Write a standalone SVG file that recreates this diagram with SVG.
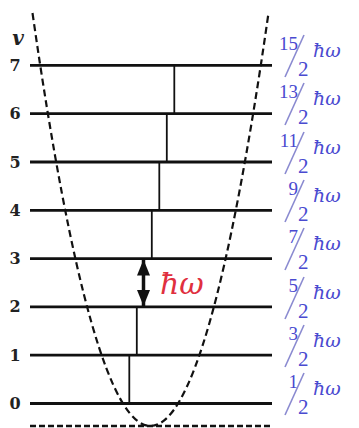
<svg xmlns="http://www.w3.org/2000/svg" width="359" height="428" viewBox="0 0 359 428">
<defs>
<style>
.lvl{stroke:#111;stroke-width:2.8;fill:none}
.num{font-family:"DejaVu Serif","Liberation Serif",serif;font-weight:bold;font-size:16px;fill:#222;text-anchor:middle}
.fr{font-family:"Liberation Serif",serif;fill:#4a4ad0}
.nm{text-anchor:end;font-size:19px}
.dn{font-size:21px}
.sl{stroke:#8a8ad0;stroke-width:1.6}
.hw{font-family:"DejaVu Serif",serif;font-style:italic;font-size:19px;fill:#4a4ad0}
.tr{stroke:#111;stroke-width:1.8}
.dash{stroke:#111;stroke-width:2.2;fill:none;stroke-dasharray:7 4}
</style>
<marker id="ah" viewBox="0 0 16 13" refX="16" refY="6.5" markerWidth="16" markerHeight="13" markerUnits="userSpaceOnUse" orient="auto">
<path d="M0,0 L16,6.5 L0,13 Z" fill="#111"/>
</marker>
</defs>
<rect width="359" height="428" fill="#fff"/>
<path class="dash" d="M32.5,13 Q150.5,839 268.5,13"/>
<line class="dash" x1="30" y1="426" x2="272" y2="426" style="stroke-width:2.5;stroke-dasharray:6 3"/>
<text x="18" y="45" style="font-family:'DejaVu Serif',serif;font-style:italic;font-weight:bold;font-size:20px;fill:#222" text-anchor="middle">v</text>
<g id="level7"><line class="lvl" x1="30" y1="65.4" x2="272" y2="65.4"/><text class="num" x="15" y="71">7</text><text class="fr nm" x="298" y="50">15</text><line class="sl" x1="304" y1="35" x2="285" y2="77"/><text class="fr dn" x="298" y="76">2</text><text class="hw" x="313" y="57">ħω</text></g>
<g id="level6"><line class="lvl" x1="30" y1="113.7" x2="272" y2="113.7"/><text class="num" x="15" y="119">6</text><text class="fr nm" x="298" y="98">13</text><line class="sl" x1="304" y1="83" x2="285" y2="125"/><text class="fr dn" x="298" y="124">2</text><text class="hw" x="313" y="105">ħω</text></g>
<g id="level5"><line class="lvl" x1="30" y1="162" x2="272" y2="162"/><text class="num" x="15" y="168">5</text><text class="fr nm" x="298" y="147">11</text><line class="sl" x1="304" y1="132" x2="285" y2="174"/><text class="fr dn" x="298" y="173">2</text><text class="hw" x="313" y="154">ħω</text></g>
<g id="level4"><line class="lvl" x1="30" y1="210.3" x2="272" y2="210.3"/><text class="num" x="15" y="216">4</text><text class="fr nm" x="298" y="195">9</text><line class="sl" x1="304" y1="180" x2="285" y2="222"/><text class="fr dn" x="298" y="221">2</text><text class="hw" x="313" y="202">ħω</text></g>
<g id="level3"><line class="lvl" x1="30" y1="258.6" x2="272" y2="258.6"/><text class="num" x="15" y="264">3</text><text class="fr nm" x="298" y="243">7</text><line class="sl" x1="304" y1="228" x2="285" y2="270"/><text class="fr dn" x="298" y="269">2</text><text class="hw" x="313" y="250">ħω</text></g>
<g id="level2"><line class="lvl" x1="30" y1="306.9" x2="272" y2="306.9"/><text class="num" x="15" y="312">2</text><text class="fr nm" x="298" y="292">5</text><line class="sl" x1="304" y1="277" x2="285" y2="319"/><text class="fr dn" x="298" y="318">2</text><text class="hw" x="313" y="299">ħω</text></g>
<g id="level1"><line class="lvl" x1="30" y1="355.2" x2="272" y2="355.2"/><text class="num" x="15" y="361">1</text><text class="fr nm" x="298" y="340">3</text><line class="sl" x1="304" y1="325" x2="285" y2="367"/><text class="fr dn" x="298" y="366">2</text><text class="hw" x="313" y="347">ħω</text></g>
<g id="level0"><line class="lvl" x1="30" y1="403.5" x2="272" y2="403.5"/><text class="num" x="15" y="409">0</text><text class="fr nm" x="298" y="388">1</text><line class="sl" x1="304" y1="373" x2="285" y2="415"/><text class="fr dn" x="298" y="414">2</text><text class="hw" x="313" y="395">ħω</text></g>
<g id="connectors">
<line class="tr" x1="129.3" y1="403.5" x2="129.3" y2="355.2"/>
<line class="tr" x1="136.8" y1="355.2" x2="136.8" y2="306.9"/>
<line class="tr" x1="151.8" y1="258.6" x2="151.8" y2="210.3"/>
<line class="tr" x1="159.3" y1="210.3" x2="159.3" y2="162"/>
<line class="tr" x1="166.8" y1="162" x2="166.8" y2="113.7"/>
<line class="tr" x1="174.3" y1="113.7" x2="174.3" y2="65.4"/>
<line x1="143.5" y1="283" x2="143.5" y2="259.5" stroke="#111" stroke-width="3.5" marker-end="url(#ah)"/>
<line x1="143.5" y1="283" x2="143.5" y2="306" stroke="#111" stroke-width="3.5" marker-end="url(#ah)"/>
</g>
<text x="160" y="294" style="font-family:'DejaVu Serif',serif;font-style:italic;font-size:30px;fill:#e0303f">ħω</text>
</svg>
